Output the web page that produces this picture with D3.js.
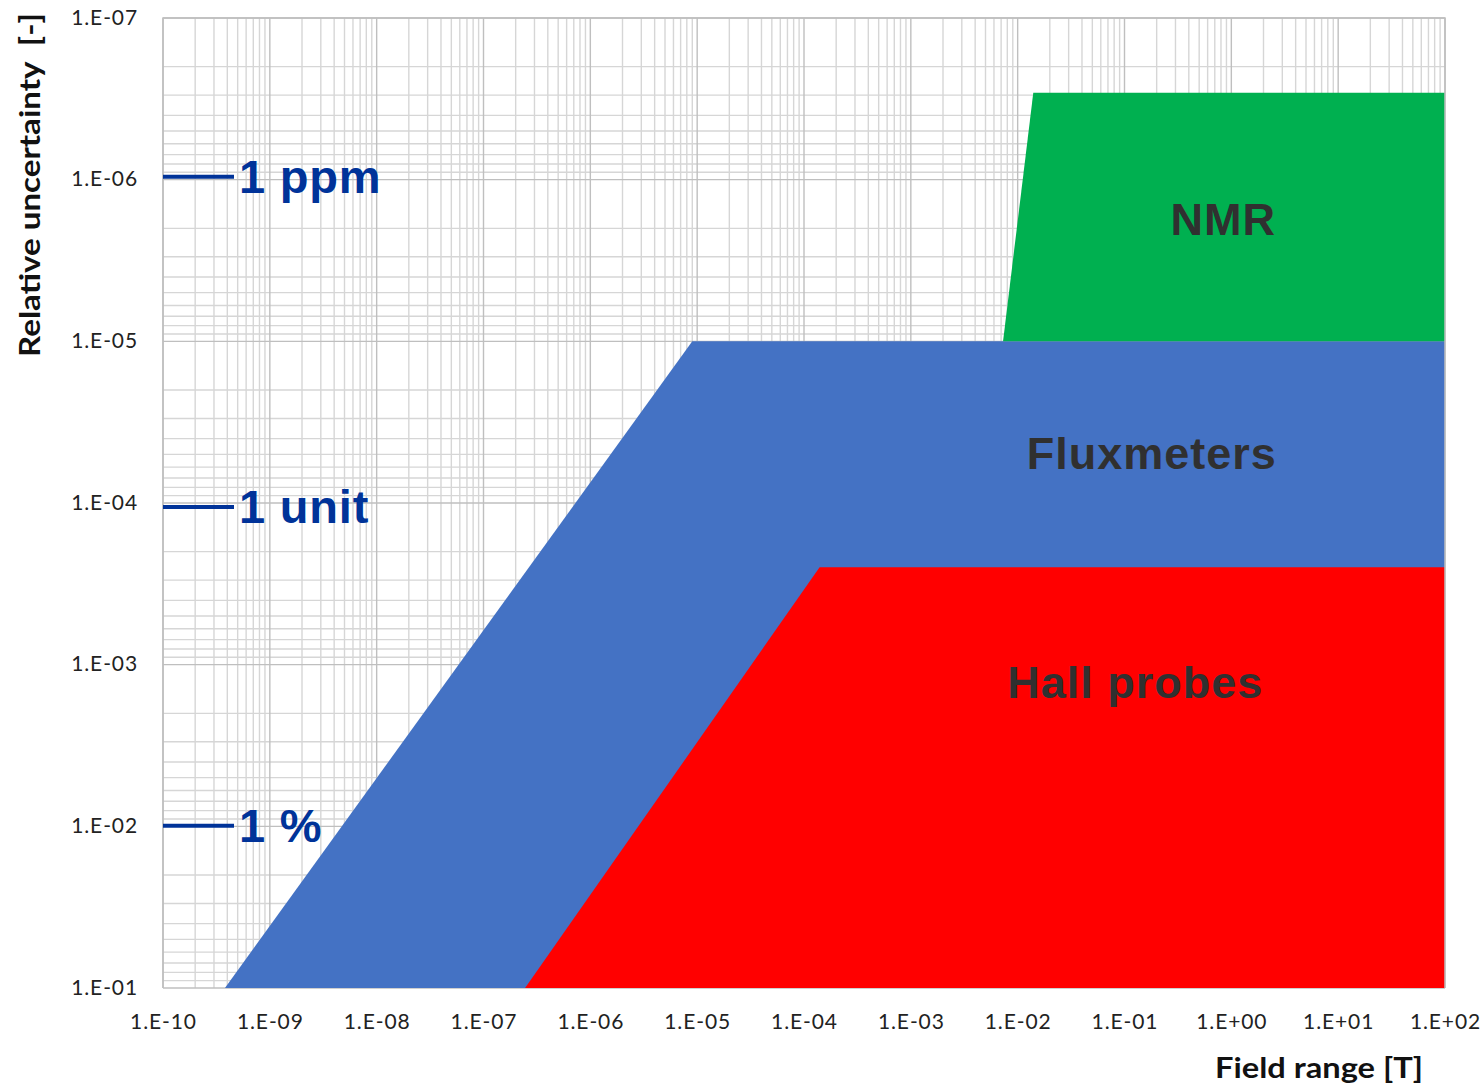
<!DOCTYPE html>
<html><head><meta charset="utf-8">
<script src="https://cdn.jsdelivr.net/npm/d3@7"></script>
<style>body{margin:0;background:#fff;} svg{display:block;}</style>
</head><body>
<svg id="c" width="1483" height="1084"></svg>
<script>
// ---- data ----
const xTickValues = [1e-10,1e-9,1e-8,1e-7,1e-6,1e-5,1e-4,1e-3,1e-2,1e-1,1e0,1e1,1e2];
const xTickLabels = ["1.E-10","1.E-09","1.E-08","1.E-07","1.E-06","1.E-05","1.E-04","1.E-03","1.E-02","1.E-01","1.E+00","1.E+01","1.E+02"];
const yTickValues = [1e-7,1e-6,1e-5,1e-4,1e-3,1e-2,1e-1];
const yTickLabels = ["1.E-07","1.E-06","1.E-05","1.E-04","1.E-03","1.E-02","1.E-01"];
const regionNames = ["Fluxmeters","Hall probes","NMR"];
const fluxField = [3.8e-10, 9e-6, 100, 100];
const fluxUnc   = [0.1, 1e-5, 1e-5, 0.1];
const hallField = [2.45e-7, 1.4e-4, 100, 100];
const hallUnc   = [0.1, 2.5e-4, 2.5e-4, 0.1];
const nmrField  = [0.0073, 0.014, 100, 100];
const nmrUnc    = [1e-5, 2.9e-7, 2.9e-7, 1e-5];
const regionColors = ["#4472C4","#FF0000","#00B050"];
const regionLabelField = [0.18, 0.126, 0.84];
const regionLabelUnc   = [6.2e-5, 1.6e-3, 2.2e-6];
const refLabels = ["1 ppm","1 unit","1 %"];
const refValues = [9.6e-7, 1.06e-4, 0.0099];

// ---- layout ----
const svg = d3.select("#c");
const X0 = 163, X1 = 1445, Y0 = 18, Y1 = 988;
const x = d3.scaleLog().domain([1e-10, 1e2]).range([X0, X1]);
const y = d3.scaleLog().domain([1e-7, 1e-1]).range([Y0, Y1]);

// grid
const g = svg.append("g");
const minorX = [], minorY = [];
for (let e = -10; e < 2; e++) for (let m = 2; m <= 9; m++) minorX.push(m * Math.pow(10, e));
for (let e = -7; e < -1; e++) for (let m = 2; m <= 9; m++) minorY.push(m * Math.pow(10, e));
g.selectAll(".mx").data(minorX).join("line")
  .attr("x1", d => x(d)).attr("x2", d => x(d)).attr("y1", Y0).attr("y2", Y1)
  .attr("stroke", "#d6d6d6").attr("stroke-width", 1.4);
g.selectAll(".my").data(minorY).join("line")
  .attr("y1", d => y(d)).attr("y2", d => y(d)).attr("x1", X0).attr("x2", X1)
  .attr("stroke", "#d6d6d6").attr("stroke-width", 1.4);
g.selectAll(".Mx").data(xTickValues).join("line")
  .attr("x1", d => x(d)).attr("x2", d => x(d)).attr("y1", Y0).attr("y2", Y1)
  .attr("stroke", "#bfbfbf").attr("stroke-width", 1.4);
g.selectAll(".My").data(yTickValues).join("line")
  .attr("y1", d => y(d)).attr("y2", d => y(d)).attr("x1", X0).attr("x2", X1)
  .attr("stroke", "#bfbfbf").attr("stroke-width", 1.4);

// regions
const line = d3.line().x(d => x(d[0])).y(d => y(d[1]));
const polys = [d3.zip(fluxField, fluxUnc), d3.zip(hallField, hallUnc), d3.zip(nmrField, nmrUnc)];
svg.selectAll(".reg").data(polys).join("path")
  .attr("d", d => line(d) + "Z")
  .attr("fill", (d, i) => regionColors[i]);

// region labels
svg.selectAll(".rl").data(regionNames).join("text")
  .attr("x", (d, i) => x(regionLabelField[i]))
  .attr("y", (d, i) => y(regionLabelUnc[i]))
  .attr("text-anchor", "middle")
  .attr("font-family", "Liberation Sans, Arial, sans-serif")
  .attr("font-weight", "bold").attr("font-size", 45).attr("letter-spacing", 1)
  .attr("fill", "#303030")
  .text(d => d);

// axes
const xAxis = d3.axisBottom(x).tickValues(xTickValues).tickFormat((d, i) => xTickLabels[i]).tickSize(0).tickPadding(26);
const yAxis = d3.axisLeft(y).tickValues(yTickValues).tickFormat((d, i) => yTickLabels[i]).tickSize(0).tickPadding(25);
const xa = svg.append("g").attr("transform", `translate(0,${Y1})`).call(xAxis);
const ya = svg.append("g").attr("transform", `translate(${X0},0)`).call(yAxis);
[xa, ya].forEach(a => {
  a.select(".domain").remove();
  a.selectAll("text").attr("font-family", "Lato, Open Sans, sans-serif").attr("font-size", 21)
    .attr("letter-spacing", 0.9).attr("fill", "#222");
});
ya.selectAll("text").attr("dy", "0.3em");

// plot border (top/left/right)
svg.append("path").attr("d", `M${X0},${Y1}V${Y0}H${X1}V${Y1}`).attr("fill", "none").attr("stroke", "#bfbfbf").attr("stroke-width", 1.5);

// reference marks
const rg = svg.selectAll(".ref").data(refLabels).join("g");
rg.append("line").attr("x1", X0).attr("x2", X0 + 71)
  .attr("y1", (d, i) => y(refValues[i])).attr("y2", (d, i) => y(refValues[i]))
  .attr("stroke", "#003399").attr("stroke-width", 4);
rg.append("text").attr("x", X0 + 76).attr("y", (d, i) => y(refValues[i]) + 16)
  .attr("font-family", "Liberation Sans, Arial, sans-serif").attr("font-weight", "bold")
  .attr("font-size", 47).attr("letter-spacing", 0.8).attr("fill", "#003399").text(d => d);

// axis titles
svg.append("text").attr("transform", "translate(40,185) rotate(-90)")
  .attr("text-anchor", "middle").attr("font-family", "Lato, Open Sans, sans-serif")
  .attr("font-weight", "bold").attr("font-size", 28).attr("fill", "#111")
  .style("white-space", "pre")
  .attr("textLength", 344).attr("lengthAdjust", "spacingAndGlyphs")
  .text("Relative uncertainty  [-]");
svg.append("text").attr("x", 1319).attr("y", 1078)
  .attr("text-anchor", "middle").attr("font-family", "Lato, Open Sans, sans-serif")
  .attr("font-weight", "bold").attr("font-size", 29).attr("fill", "#111")
  .attr("textLength", 208).attr("lengthAdjust", "spacingAndGlyphs")
  .text("Field range [T]");
</script>
</body></html>
